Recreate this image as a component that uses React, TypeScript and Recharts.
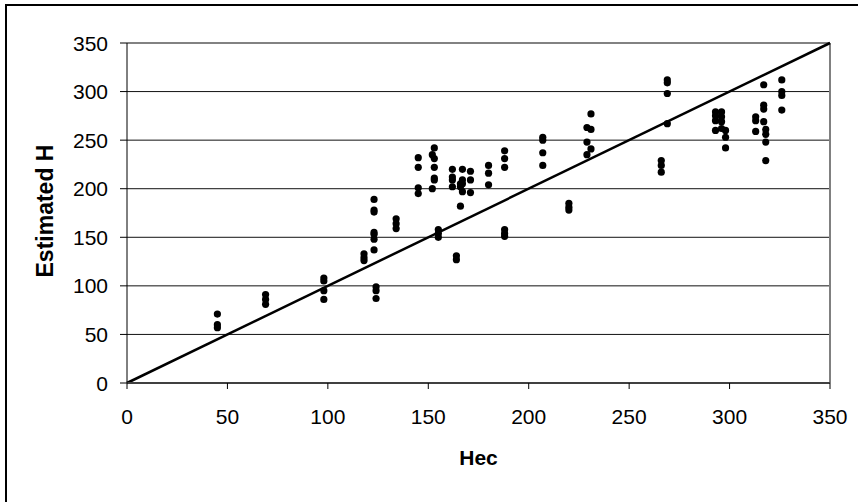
import {
  ScatterChart,
  Scatter,
  XAxis,
  YAxis,
  CartesianGrid,
  ReferenceLine,
} from 'recharts'

// Hec value of each column of points, and the estimated H values measured at it
const hecGroups = [
  45, 69, 98, 118, 123, 124, 134, 145, 152, 153, 155, 162, 164, 166, 167, 171,
  180, 188, 207, 220, 229, 231, 266, 269, 293, 296, 298, 313, 317, 318, 326,
]
const estimatedGroups = [
  [71, 60, 57],
  [91, 86, 81],
  [108, 105, 95, 86],
  [133, 129, 126],
  [189, 178, 176, 155, 153, 148, 137],
  [99, 95, 87],
  [169, 164, 159],
  [232, 222, 201, 195],
  [235, 200],
  [242, 231, 222, 211, 209],
  [158, 154, 150],
  [220, 212, 209, 202],
  [131, 127],
  [205, 202, 182],
  [220, 209, 205, 197],
  [218, 209, 196],
  [224, 216, 204],
  [239, 231, 222, 158, 154, 151],
  [253, 250, 237, 224],
  [185, 181, 178],
  [263, 248, 235],
  [277, 261, 241],
  [229, 224, 217],
  [312, 309, 298, 267],
  [279, 275, 270, 260],
  [279, 274, 269, 262],
  [260, 253, 242],
  [274, 270, 259],
  [307, 286, 282, 269],
  [261, 256, 248, 229],
  [312, 300, 296, 281],
]
const axisTicks = [0, 50, 100, 150, 200, 250, 300, 350]
const identityLine = [
  { x: 0, y: 0 },
  { x: 350, y: 350 },
]

const points = hecGroups.flatMap((hec, i) =>
  estimatedGroups[i].map((est) => ({ hec, est }))
)

const FONT = '"Liberation Sans", Arial, sans-serif'

const XTick = ({ x, y, payload }: any) => (
  <text x={x} y={y} dy="0.71em" textAnchor="middle" fontFamily={FONT} fontSize={21} fill="#000">
    {payload.value}
  </text>
)

const YTick = ({ x, y, payload }: any) => (
  <text x={x} y={y} dy="0.36em" textAnchor="end" fontFamily={FONT} fontSize={21} fill="#000">
    {payload.value}
  </text>
)

const Dot = ({ cx, cy }: any) => <circle cx={cx} cy={cy} r={3.6} fill="#000" />

export default function App() {
  return (
    <div
      style={{
        position: 'absolute',
        left: 0,
        top: 0,
        width: 858,
        height: 502,
        background: '#fff',
        overflow: 'hidden',
      }}
    >
      <div
        style={{
          position: 'absolute',
          left: 5,
          top: 4,
          width: 900,
          height: 600,
          borderTop: '2px solid #000',
          borderLeft: '2px solid #000',
        }}
      />
      <ScatterChart
        width={858}
        height={502}
        margin={{ top: 43, right: 28, bottom: 0, left: 0 }}
        style={{ position: 'absolute', left: 0, top: 0 }}
      >
        <CartesianGrid vertical={false} stroke="#111" />
        <XAxis
          type="number"
          dataKey="hec"
          domain={[0, 350]}
          ticks={axisTicks}
          interval={0}
          height={119}
          axisLine={{ stroke: '#404040', strokeWidth: 2 }}
          tickLine={{ stroke: '#000' }}
          tickSize={6}
          tickMargin={20}
          tick={<XTick />}
          label={{
            content: ({ viewBox }: any) => (
              <text
                x={viewBox.x + viewBox.width / 2}
                y={viewBox.y + 82}
                textAnchor="middle"
                fontFamily={FONT}
                fontSize={21}
                fontWeight="bold"
                fill="#000"
              >
                Hec
              </text>
            ),
          }}
        />
        <YAxis
          type="number"
          dataKey="est"
          domain={[0, 350]}
          ticks={axisTicks}
          interval={0}
          width={127}
          axisLine={{ stroke: '#000' }}
          tickLine={{ stroke: '#000' }}
          tickSize={7}
          tickMargin={12}
          tick={<YTick />}
          label={{
            content: () => (
              <text
                x={53}
                y={211}
                transform="rotate(-90 53 211)"
                textAnchor="middle"
                fontFamily={FONT}
                fontSize={23}
                fontWeight="bold"
                fill="#000"
              >
                Estimated H
              </text>
            ),
          }}
        />
        <ReferenceLine y={350} stroke="#808080" strokeWidth={1.5} />
        <ReferenceLine x={350} stroke="#808080" strokeWidth={2} />
        <ReferenceLine segment={identityLine} stroke="#000" strokeWidth={2.5} />
        <Scatter data={points} shape={<Dot />} isAnimationActive={false} />
      </ScatterChart>
    </div>
  )
}
